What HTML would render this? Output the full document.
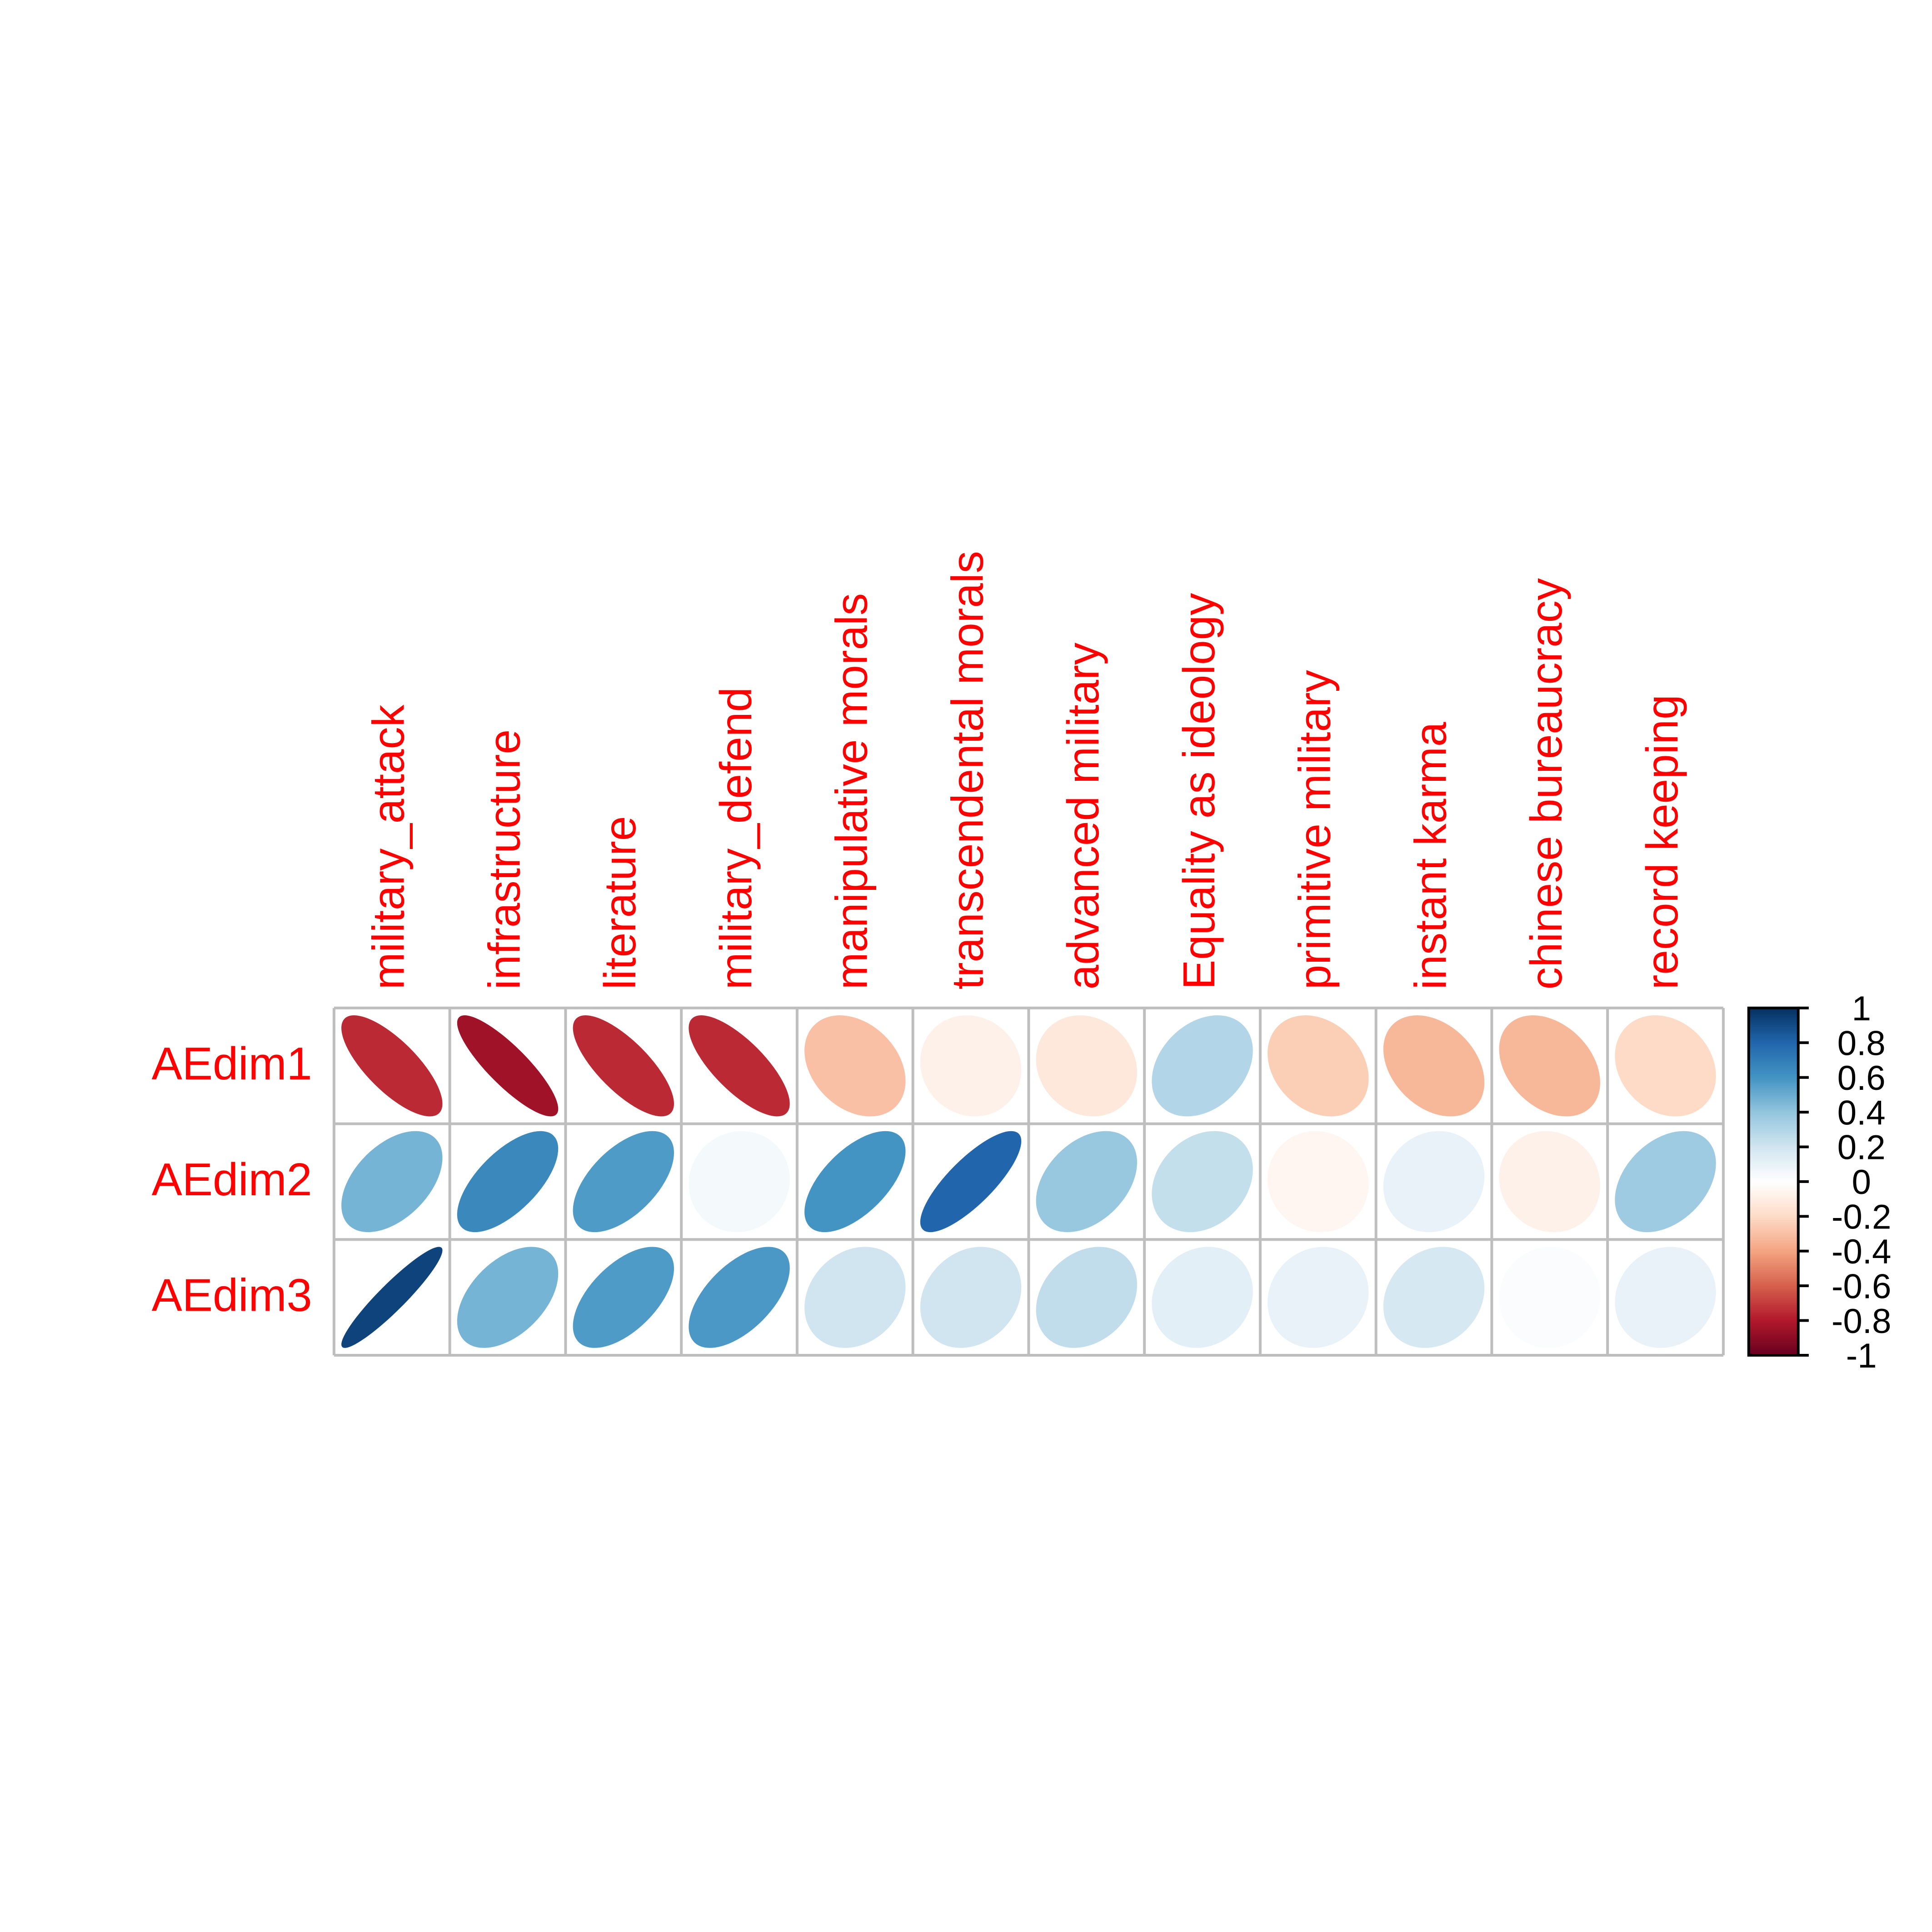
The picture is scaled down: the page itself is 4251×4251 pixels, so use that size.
<!DOCTYPE html>
<html><head><meta charset="utf-8"><style>html,body{margin:0;padding:0;background:#fff}</style></head>
<body>
<svg id="chart" xmlns="http://www.w3.org/2000/svg" width="4251" height="4251" viewBox="0 0 1560 1560" style="display:block">
<rect width="1560" height="1560" fill="#fff"/>
</svg>
<script>
const rowLabels = ["AEdim1","AEdim2","AEdim3"];
const colLabels = ["military_attack","infrastructure","literature","military_defend","manipulative morals","transcendental morals","advanced military","Equality as ideology","primitive military","instant karma","chinese bureaucracy","record keeping"];
const row1 = [-0.75,-0.85,-0.75,-0.75,-0.3,-0.08,-0.13,0.3,-0.25,-0.33,-0.33,-0.2];
const row2 = [0.47,0.65,0.57,0.05,0.6,0.8,0.38,0.24,-0.05,0.1,-0.08,0.36];
const row3 = [0.93,0.47,0.57,0.58,0.2,0.2,0.25,0.12,0.1,0.18,0.02,0.1];
const values = [row1,row2,row3];
const cbTicks = ["1","0.8","0.6","0.4","0.2","0","-0.2","-0.4","-0.6","-0.8","-1"];

const NS="http://www.w3.org/2000/svg";
const svg=document.getElementById('chart');
const X0=269.7,X1=1391.5,Y0=813.9,Y1=1094.3;
const cw=(X1-X0)/colLabels.length, ch=(Y1-Y0)/rowLabels.length;
const pal=["#67001F","#B2182B","#D6604D","#F4A582","#FDDBC7","#FFFFFF","#D1E5F0","#92C5DE","#4393C3","#2166AC","#053061"];
function hex(h){return [1,3,5].map(i=>parseInt(h.substr(i,2),16));}
function color(v){
  let t=(v+1)/2*(pal.length-1);t=Math.max(0,Math.min(pal.length-1,t));
  const i=Math.min(Math.floor(t),pal.length-2),f=t-i;
  const a=hex(pal[i]),b=hex(pal[i+1]);
  return "rgb("+a.map((c,k)=>Math.round(c+(b[k]-c)*f)).join(",")+")";
}
function mk(tag,attrs){const e=document.createElementNS(NS,tag);for(const k in attrs)e.setAttribute(k,attrs[k]);svg.appendChild(e);return e;}
const xc=j=>X0+cw*(j+0.5), yc=i=>Y0+ch*(i+0.5);
const A=40.8;
values.forEach((row,i)=>row.forEach((v,j)=>{
  const e=mk('ellipse',{cx:0,cy:0,rx:A*Math.sqrt(1+Math.abs(v)),ry:A*Math.sqrt(1-Math.abs(v)),fill:color(v),
    transform:`translate(${xc(j)},${yc(i)}) rotate(${v>=0?-45:45})`});
  
  
}));
for(let i=0;i<=rowLabels.length;i++){const l=mk('line',{x1:X0,x2:X1,y1:Y0+ch*i,y2:Y0+ch*i,stroke:'#bebebe','stroke-width':2.2});
}
for(let j=0;j<=colLabels.length;j++){const l=mk('line',{x1:X0+cw*j,x2:X0+cw*j,y1:Y0,y2:Y1,stroke:'#bebebe','stroke-width':2.2});
}
rowLabels.forEach((r,i)=>{const t=mk('text',{x:252,y:yc(i)+11,'text-anchor':'end','font-size':37,fill:'#ff0000','font-family':'Liberation Sans, sans-serif'});t.textContent=r;
});
colLabels.forEach((c,j)=>{const x=xc(j)+9.7;const t=mk('text',{x:0,y:0,transform:`translate(${x},799) rotate(-90)`,'font-size':36,fill:'#ff0000','font-family':'Liberation Sans, sans-serif'});t.textContent=c;
});
// colorbar
const CX0=1412,CX1=1452,N=200,bh=(Y1-Y0)/N;
for(let k=0;k<N;k++){const v=1-(k+0.5)/N*2;const r=mk('rect',{x:CX0,y:Y0+k*bh,width:CX1-CX0,height:bh+0.6,fill:color(v)});
}
const fr=mk('rect',{x:CX0,y:Y0,width:CX1-CX0,height:Y1-Y0,fill:'none',stroke:'#000','stroke-width':2.2});

cbTicks.forEach((lab,k)=>{const y=Y0+(Y1-Y0)*k/(cbTicks.length-1);
const l=mk('line',{x1:CX1,x2:1460.5,y1:y,y2:y,stroke:'#000','stroke-width':2.2});

const t=mk('text',{x:1503,y:y+10,'text-anchor':'middle','font-size':28,fill:'#000','font-family':'Liberation Sans, sans-serif'});t.textContent=lab;
});
</script>
</body></html>
